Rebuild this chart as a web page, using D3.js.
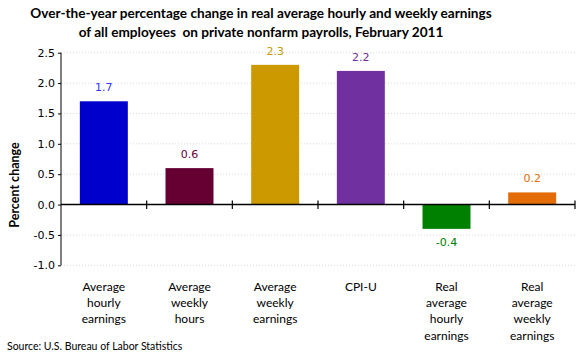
<!DOCTYPE html>
<html><head><meta charset="utf-8">
<script src="https://cdn.jsdelivr.net/npm/d3@7"></script>
<style>body{margin:0;background:#fff}svg{display:block}</style>
</head><body><svg id="c" width="580" height="360"></svg>
<script>
const categories = [["Average","hourly","earnings"],["Average","weekly","hours"],["Average","weekly","earnings"],["CPI-U"],["Real","average","hourly","earnings"],["Real","average","weekly","earnings"]];
const values = [1.7, 0.6, 2.3, 2.2, -0.4, 0.2];
const barColors = ["#0000CC","#660033","#CC9900","#7030A0","#008000","#E36C09"];
const labelColors = ["#3333FF","#660033","#CC9900","#7030A0","#008000","#E36C09"];
const yTicks = [-1.0,-0.5,0.0,0.5,1.0,1.5,2.0,2.5];
const titleLines = ["Over-the-year percentage change in real average hourly and weekly earnings","of all employees  on private nonfarm payrolls, February 2011"];

const fmt = v => d3.format(".1f")(v).replace("\u2212","-");
const svg = d3.select("#c");
const L = 61, R = 575, T = 52.7, B = 265.3;
const x = d3.scaleBand().domain(d3.range(values.length)).range([L, R]).paddingInner(0.44).paddingOuter(0.22);
const y = d3.scaleLinear().domain([-1, 2.5]).range([B, T]);

// title
svg.append("g").selectAll("text").data(titleLines).join("text")
  .attr("x", 261).attr("y", (d,i)=>18+i*19).attr("text-anchor","middle")
  .style("white-space","pre")
  .style("font-family","Lato, sans-serif").style("font-weight","bold").style("font-size","13.6px").style("fill","#000")
  .text(d=>d);

// gridlines
svg.append("g").selectAll("line").data(yTicks.filter(v=>v!==0)).join("line")
  .attr("x1", L).attr("x2", R).attr("y1", d=>y(d)).attr("y2", d=>y(d))
  .attr("stroke","#d9d9d9").attr("stroke-width",1).attr("stroke-dasharray","1,2");

// bars
svg.append("g").selectAll("rect").data(values).join("rect")
  .attr("x",(d,i)=>x(i)).attr("width",x.bandwidth())
  .attr("y",d=>y(Math.max(0,d))).attr("height",d=>Math.abs(y(d)-y(0)))
  .attr("fill",(d,i)=>barColors[i]);

// y axis
const ya = svg.append("g").attr("transform",`translate(${L},0)`)
  .call(d3.axisLeft(y).tickValues(yTicks).tickFormat(fmt).tickSize(3).tickPadding(3));
ya.select(".domain").attr("stroke","#000").attr("d",`M0,${T}V${B}`);
ya.selectAll(".tick line").attr("stroke","#000");
ya.selectAll("text").style("font-family","'DejaVu Sans', sans-serif").style("font-size","11px").style("fill","#000");

// zero line with crossing ticks
const z = y(0);
svg.append("line").attr("x1",L).attr("x2",R).attr("y1",z).attr("y2",z).attr("stroke","#000").attr("stroke-width",1.5);
const bounds = d3.range(values.length+1).map(i => L + i*(R-L)/values.length);
svg.append("g").selectAll("line").data(bounds.slice(1)).join("line")
  .attr("x1",d=>d).attr("x2",d=>d).attr("y1",z-4).attr("y2",z+4.5).attr("stroke","#000").attr("stroke-width",1.2);

// value labels
svg.append("g").selectAll("text").data(values).join("text")
  .attr("x",(d,i)=>x(i)+x.bandwidth()/2)
  .attr("y",d=> d>=0 ? y(d)-10 : y(d)+17)
  .attr("text-anchor","middle")
  .style("font-family","'DejaVu Sans', sans-serif").style("font-size","11px")
  .style("fill",(d,i)=>labelColors[i])
  .text(fmt);

// category labels
const cg = svg.append("g");
categories.forEach((lines,i)=>{
  cg.append("text").attr("text-anchor","middle")
    .style("font-family","Lato, sans-serif").style("font-size","12px").style("fill","#000")
    .selectAll("tspan").data(lines).join("tspan")
    .attr("x", x(i)+x.bandwidth()/2).attr("y",(d,j)=>291+j*16.2).text(d=>d);
});

// y title
svg.append("text").attr("transform","translate(19,185) rotate(-90)").attr("text-anchor","middle")
  .style("font-family","Lato, sans-serif").style("font-weight","bold").style("font-size","12.5px")
  .text("Percent change");

// source
svg.append("text").attr("x",7).attr("y",350)
  .style("font-family","Lato, sans-serif").style("font-size","10.5px").style("fill","#000")
  .text("Source: U.S. Bureau of Labor Statistics");
</script></body></html>
